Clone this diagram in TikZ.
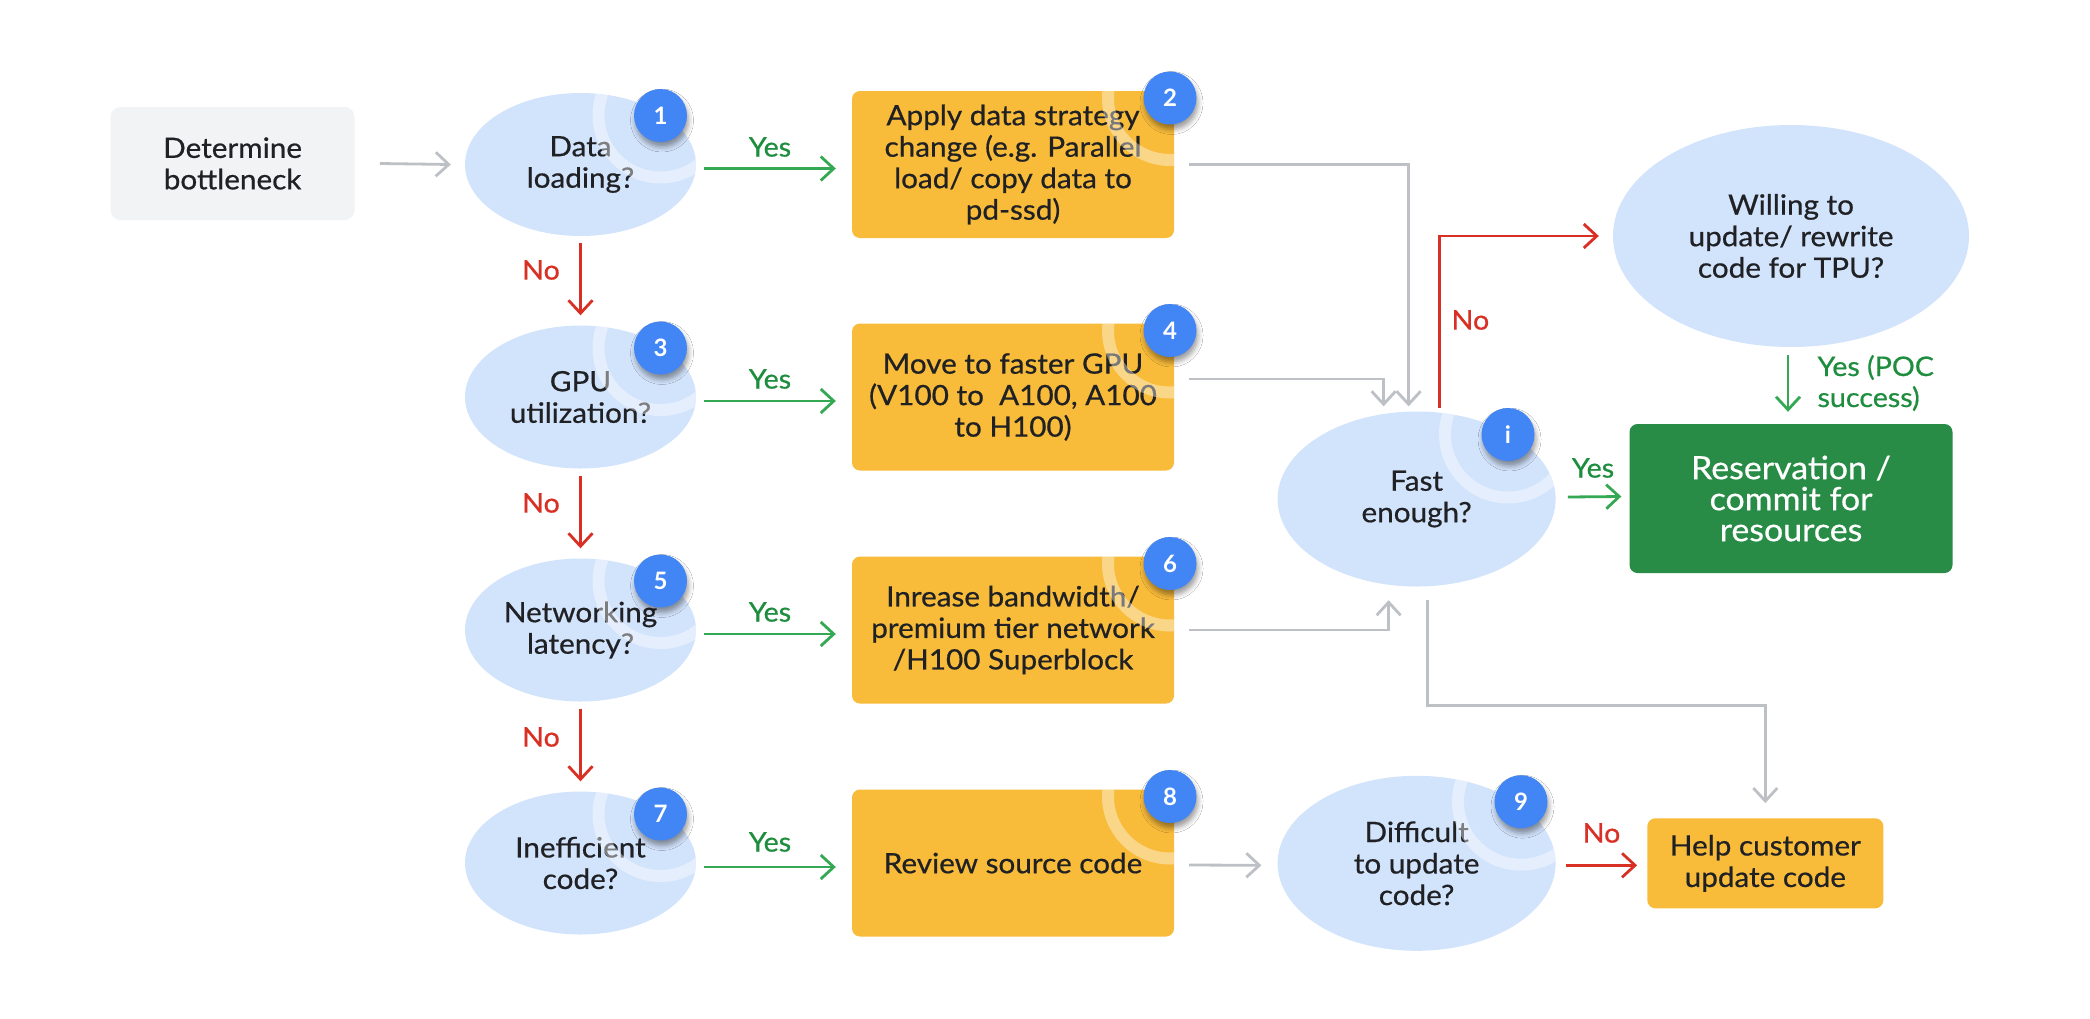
\documentclass[tikz,border=0pt]{standalone}
\usepackage{fontspec}
\setmainfont{Lato}[FakeStretch=1.06, FakeBold=0.6]
\newfontfamily\badgefont{Lato}[FakeStretch=1.0]
\usetikzlibrary{shapes.geometric,arrows.meta,shadows.blur}
\definecolor{cblue}{HTML}{D2E3FC}
\definecolor{cbadge}{HTML}{4285F4}
\definecolor{corange}{HTML}{F8BB3A}
\definecolor{cgreenbox}{HTML}{288C46}
\definecolor{cgray}{HTML}{BDC1C6}
\definecolor{clight}{HTML}{F1F3F4}
\definecolor{cred}{HTML}{D93025}
\definecolor{cgreen}{HTML}{34A853}
\definecolor{cgtext}{HTML}{1E8E3E}
\definecolor{ctext}{HTML}{202124}
\tikzset{
  body/.style={font=\fontsize{28}{31.5}\selectfont, text=ctext, align=center},
  ell/.style={body, ellipse, fill=cblue, inner sep=0pt, minimum width=231pt, minimum height=143pt},
  bigell/.style={body, ellipse, fill=cblue, inner sep=0pt, minimum width=278pt, minimum height=175pt},
  obox/.style={body, rectangle, rounded corners=8pt, fill=corange, minimum width=322pt, minimum height=147pt, inner sep=0pt},
  badge/.style={circle, fill=cbadge, minimum size=53pt, inner sep=0pt, text=white,
    font=\badgefont\fontsize{24}{24}\selectfont\bfseries,
    blur shadow={shadow xshift=1.5pt, shadow yshift=-5pt, shadow blur radius=5pt, shadow opacity=40}},
  ringline/.style={draw=white, draw opacity=0.42, line width=12pt},
  tip/.style={-{Straight Barb[length=13pt,width=24pt,line width=2.8pt]}},
  garr/.style={draw=cgray, line width=2.8pt, tip},
  rarr/.style={draw=cred, line width=2.8pt, tip},
  yarr/.style={draw=cgreen, line width=2.8pt, tip},
  ylab/.style={font=\fontsize{27}{31}\selectfont, text=cgtext},
  nlab/.style={font=\fontsize{27}{31}\selectfont, text=cred},
}
\begin{document}
\begin{tikzpicture}[x=1pt,y=-1pt]
\useasboundingbox[fill=white] (0,0) rectangle (2090,1018);

% start box
\node[body, rectangle, rounded corners=10pt, fill=clight, minimum width=244pt, minimum height=113pt] (det) at (232.6,163.5) {Determine\\bottleneck};

% left column questions
\node[ell] (q1) at (580.5,164.5) {Data\\loading?};
\node[ell] (q3) at (580.5,397) {GPU\\utilization?};
\node[ell] (q5) at (580.5,630) {Networking\\latency?};
\node[ell] (q7) at (580.5,863) {Inefficient\\code?};

% action boxes
\node[obox] (a2) at (1013,164.5) {Apply data strategy\\change (e.g. Parallel\\load/ copy data to\\pd-ssd)};
\node[obox] (a4) at (1013,397) {Move to faster GPU\\(V100 to\ \ A100, A100\\to H100)};
\node[obox] (a6) at (1013,630) {Inrease bandwidth/\\premium tier network\\/H100 Superblock};
\node[obox] (a8) at (1013,863) {Review source code};

% right side
\node[bigell] (fast) at (1416.6,499) {Fast\\enough?};
\node[bigell] (diff) at (1416.6,863.3) {Difficult\\to update\\code?};
\node[body, ellipse, fill=cblue, inner sep=0pt, minimum width=356pt, minimum height=222pt] (will) at (1791,236) {Willing to\\update/ rewrite\\code for TPU?};
\node[rectangle, rounded corners=8pt, fill=cgreenbox, minimum width=323pt, minimum height=149pt, inner sep=0pt, align=center, text=white, font=\fontsize{32}{31}\selectfont] (res) at (1791,498.5) {Reservation /\\commit for\\resources};
\node[obox, minimum width=236pt, minimum height=90pt] (help) at (1765.3,863.3) {Help customer\\update code};

% rings over the shapes
\foreach \q/\bx/\by in {q1/660.5/115.5, q3/660.5/348, q5/660.5/581, q7/660.5/814}{
  \begin{scope}
    \clip (\q.center) ellipse [x radius=115.5, y radius=71.5];
    \draw[ringline] (\bx,\by) circle [radius=62];
  \end{scope}
}
\foreach \a/\bx/\by in {a2/1170/98, a4/1170/330.5, a6/1170/563.5, a8/1170/796.5}{
  \begin{scope}
    \clip[rounded corners=8pt] (\a.south west) rectangle (\a.north east);
    \draw[ringline, draw opacity=0.4] (\bx,\by) circle [radius=62];
  \end{scope}
}
\begin{scope}
  \clip (fast.center) ellipse [x radius=139, y radius=87.5];
  \draw[ringline] (1508,434.5) circle [radius=63];
\end{scope}
\begin{scope}
  \clip (diff.center) ellipse [x radius=139, y radius=87.5];
  \draw[ringline] (1521,801.7) circle [radius=63];
\end{scope}

% badges
\node[badge] (b1) at (660.5,115.5) {1};
\node[badge] (b3) at (660.5,348) {3};
\node[badge] (b5) at (660.5,581) {5};
\node[badge] (b7) at (660.5,814) {7};
\node[badge] (b2) at (1170,98) {2};
\node[badge] (b4) at (1170,330.5) {4};
\node[badge] (b6) at (1170,563.5) {6};
\node[badge] (b8) at (1170,796.5) {8};
\node[badge] (bi) at (1508,434.5) {i};
\node[badge] (b9) at (1521,801.7) {9};

% connectors
\draw[garr] ([xshift=25pt]det.east) -- ([xshift=-14pt]q1.west);

\foreach \q/\a in {q1/a2, q3/a4, q5/a6, q7/a8}{
  \draw[yarr] ([xshift=8pt,yshift=-4pt]\q.east) -- ([xshift=-16pt,yshift=-4pt]\a.west);
}
\node[ylab] (y1) at (770,147) {Yes};
\node[ylab] (y3) at (770,379) {Yes};
\node[ylab] (y5) at (770,612) {Yes};
\node[ylab] (y7) at (770,842) {Yes};

\draw[rarr] ([yshift=-7pt]q1.south) -- ([yshift=10pt]q3.north);
\draw[rarr] ([yshift=-7pt]q3.south) -- ([yshift=10pt]q5.north);
\draw[rarr] ([yshift=-7pt]q5.south) -- ([yshift=10pt]q7.north);
\node[nlab] (n1) at (541,270) {No};
\node[nlab] (n3) at (541,503) {No};
\node[nlab] (n5) at (541,737) {No};

\draw[garr] ([xshift=15pt]a2.east) -| ([xshift=-8pt,yshift=5pt]fast.north);
\draw[garr] ([xshift=15pt,yshift=18pt]a4.east) -| ([xshift=-33pt,yshift=5pt]fast.north);
\draw[garr] ([xshift=15pt]a6.east) -| ([xshift=-28pt,yshift=-13.5pt]fast.south);
\draw[garr] ([xshift=11pt,yshift=-13.5pt]fast.south) -- ++(0,105) -| ([yshift=15pt]help.north);
\draw[garr] ([xshift=15pt,yshift=-2pt]a8.east) -- ([xshift=-16pt,yshift=-2pt]diff.west);

\draw[rarr] ([xshift=22.7pt,yshift=3.5pt]fast.north) |- ([xshift=-14pt]will.west);
\node[nlab] (nf) at (1470.4,320) {No};
\draw[rarr] ([xshift=10pt,yshift=-2pt]diff.east) -- ([xshift=-10pt,yshift=-2pt]help.west);
\node[nlab] (nd) at (1601.5,833) {No};

\draw[yarr] ([xshift=12pt,yshift=2pt]fast.east) -- ([xshift=-8pt,yshift=2pt]res.west);
\node[ylab] (yf) at (1593,468) {Yes};
\draw[yarr] ([xshift=-3pt,yshift=-8pt]will.south) -- ([xshift=-3pt,yshift=12pt]res.north);
\node[ylab, anchor=west, align=left] (yw) at (1814,383) {Yes (POC\\success)};
\end{tikzpicture}
\end{document}
